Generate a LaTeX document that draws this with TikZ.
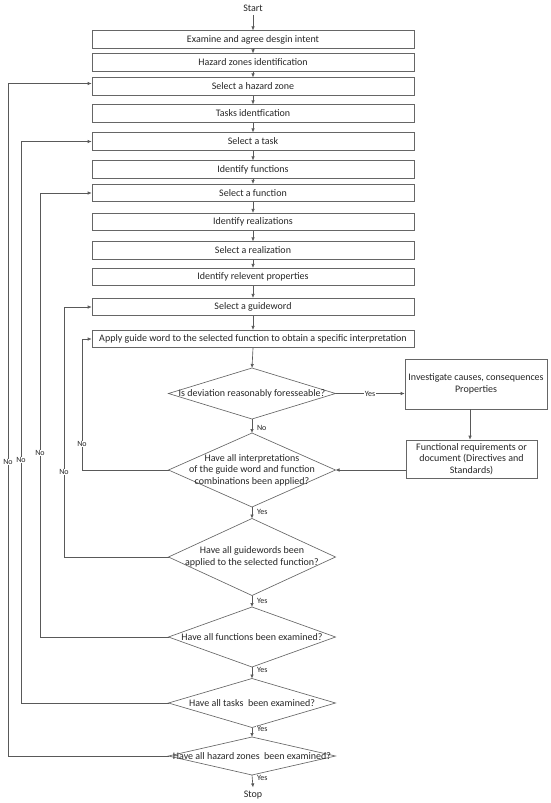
\documentclass[tikz,border=0pt]{standalone}
\usepackage{fontspec}
\setmainfont{Carlito}
\usetikzlibrary{shapes.geometric,arrows.meta,calc}
\begin{document}
\begin{tikzpicture}[x=1pt,y=-1pt,
  every node/.style={font=\fontsize{10}{11.5}\selectfont, text=black!85},
  box/.style={draw=black!60, line width=0.65pt, minimum width=322pt, minimum height=17.5pt, inner sep=0pt},
  rbox/.style={draw=black!60, line width=0.65pt, align=center, inner sep=0pt},
  dec/.style={draw=black!60, line width=0.65pt, shape=diamond, minimum width=167pt, inner sep=0pt, outer sep=0pt},
  dtext/.style={align=center, inner sep=0pt},
  arr/.style={draw=black!65, line width=0.65pt, -{Latex[length=4pt,width=3.5pt]}},
  lab/.style={font=\fontsize{8}{9}\selectfont, fill=white, inner sep=0.8pt}]
\useasboundingbox (0,0) rectangle (550,803);

\node (start) at (253,8) {Start};
\node[box] (b1) at (253,39.5) {Examine and agree desgin intent};
\node[box] (b2) at (253,62.5) {Hazard zones identification};
\node[box] (b3) at (253,86.5) {Select a hazard zone};
\node[box] (b4) at (253,113.5) {Tasks identfication};
\node[box] (b5) at (253,141.5) {Select a task};
\node[box] (b6) at (253,169.5) {Identify functions};
\node[box] (b7) at (253,193) {Select a function};
\node[box] (b8) at (253,222) {Identify realizations};
\node[box] (b9) at (253,250.5) {Select a realization};
\node[box] (b10) at (253,277) {Identify relevent properties};
\node[box] (b11) at (253,307) {Select a guideword};
\node[box] (b12) at (253,339) {Apply guide word to the selected function to obtain a specific interpretation};

\node[dec, minimum height=51pt] (d1) at (252,393.5) {};
\node[dtext] (d1t) at (d1) {Is deviation reasonably foresseable?};
\node[dec, minimum height=74pt] (d2) at (252,470) {};
\node[dtext] (d2t) at (d2) {Have all interpretations\\of the guide word and function\\combinations been applied?};
\node[dec, minimum height=77pt] (d3) at (252,557) {};
\node[dtext] (d3t) at (d3) {Have all guidewords been\\applied to the selected function?};
\node[dec, minimum height=60pt] (d4) at (252,637) {};
\node[dtext] (d4t) at (d4) {Have all functions been examined?};
\node[dec, minimum height=49pt] (d5) at (252,703) {};
\node[dtext] (d5t) at (d5) {Have all tasks\ \ been examined?};
\node[dec, minimum height=38pt] (d6) at (252,756) {};
\node[dtext] (d6t) at (d6) {Have all hazard zones\ \ been examined?};
\node (stop) at (253,795) {Stop};

\node[rbox, minimum width=142pt, minimum height=50pt] (r1) at (476,384) {Investigate causes, consequences\\Properties};
\node[rbox, minimum width=131pt, minimum height=38pt] (r2) at (471.5,459) {Functional requirements or\\document (Directives and\\Standards)};

% main vertical flow
\draw[arr] (start) -- (b1);
\foreach \a/\b in {b1/b2,b2/b3,b3/b4,b4/b5,b5/b6,b6/b7,b7/b8,b8/b9,b9/b10,b10/b11,b11/b12}
  \draw[arr] (\a.south) -- (\b.north);
\draw[arr] (b12.south) -- (d1.north);
\draw[arr] (d1.south) -- (d2.north);
\draw[arr] (d2.south) -- (d3.north);
\draw[arr] (d3.south) -- (d4.north);
\draw[arr] (d4.south) -- (d5.north);
\draw[arr] (d5.south) -- (d6.north);
\draw[arr] (d6.south) -- (stop.north);

% side branch
\draw[arr] (d1.east) -- (d1.east -| r1.west) node[lab, midway] (y1) {Yes};
\draw[arr] ([xshift=-6pt]r1.south) -- ([xshift=-6pt]r1.south |- r2.north);
\draw[arr] (r2.west |- d2.east) -- (d2.east);

% Yes / No labels on the main flow
\node[lab, anchor=west] (n1) at (256,428) {No};
\node[lab, anchor=west] (y2) at (256,512) {Yes};
\node[lab, anchor=west] (y3) at (256,601) {Yes};
\node[lab, anchor=west] (y4) at (256,670) {Yes};
\node[lab, anchor=west] (y5) at (256,729) {Yes};
\node[lab, anchor=west] (y6) at (256,778) {Yes};

% loops back
\draw[arr] (d2.west) -- ++(-86,0) |- (b12.west);
\draw[arr] (d3.west) -- ++(-104,0) |- (b11.west);
\draw[arr] (d4.west) -- ++(-128,0) |- (b7.west);
\draw[arr] (d5.west) -- ++(-147,0) |- (b5.west);
\draw[arr] (d6.west) -- ++(-160,0) |- ([yshift=3pt]b3.west);

\node[lab] (l1) at (82,444) {No};
\node[lab] (l2) at (64,472) {No};
\node[lab] (l3) at (40,453) {No};
\node[lab] (l4) at (21,460) {No};
\node[lab] (l5) at (8,462) {No};
\end{tikzpicture}
\end{document}
